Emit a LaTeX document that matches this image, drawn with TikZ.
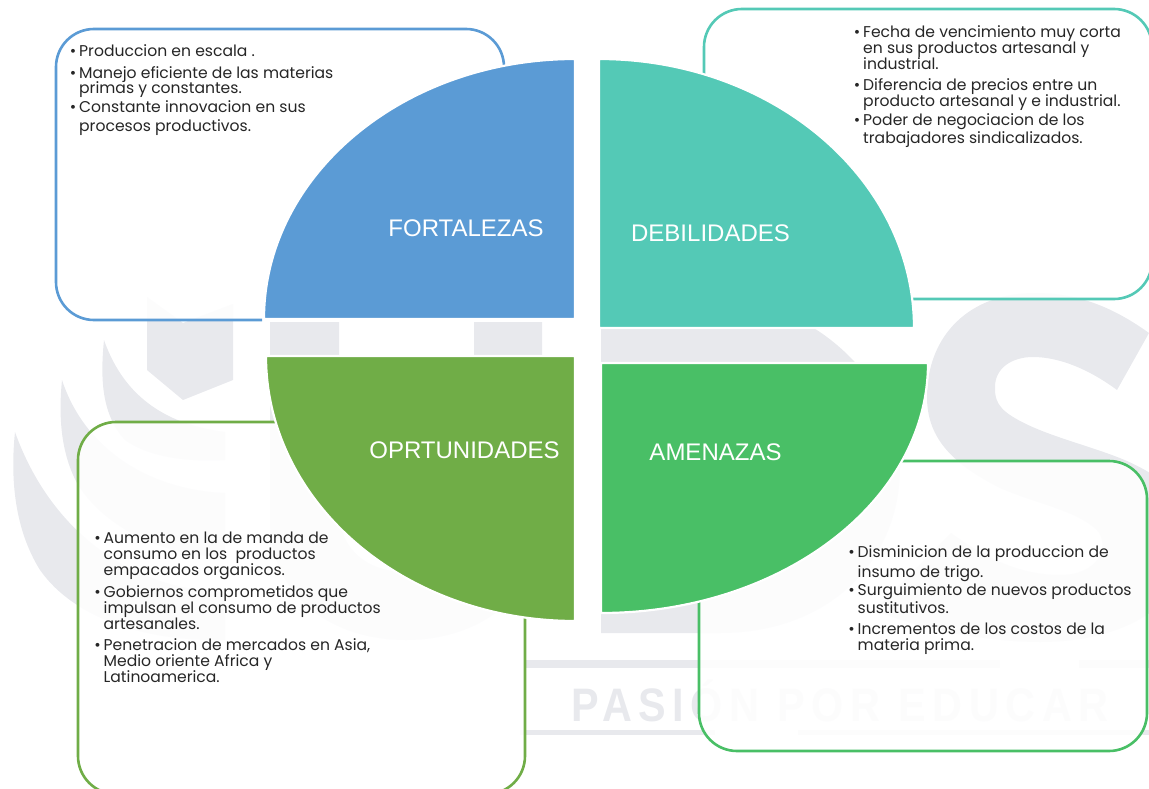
\documentclass[tikz,border=0pt]{standalone}
\usepackage{fontspec}
\setmainfont{Liberation Sans}
\newfontfamily\bodyfont{Poppins}
\newfontfamily\markfont[LetterSpace=14,FakeStretch=0.88]{Liberation Sans}
\definecolor{wm}{HTML}{E8E9ED}
\definecolor{cblue}{HTML}{5B9BD5}
\definecolor{cteal}{HTML}{54C9B6}
\definecolor{cgreen}{HTML}{70AD47}
\definecolor{cmint}{HTML}{49BF66}
\newcommand{\bul}{\llap{\textbullet\hspace{3pt}}}
\tikzset{
  wmark/.style={fill=wm,draw=none},
  panel/.style={fill=white,fill opacity=.88,draw opacity=1,line width=2.6pt,rounded corners=38pt},
  quarter/.style={draw=white,line width=2.2pt},
  title/.style={text=white,font=\fontsize{24}{26}\selectfont,inner sep=0pt,anchor=center},
  body/.style={align=left,inner sep=0pt,anchor=base west,text=black!85,font=\bodyfont\fontsize{15.6}{16}\selectfont}
}
\begin{document}
\begin{tikzpicture}[x=1pt,y=-1pt]
\useasboundingbox (0,0) rectangle (1149,789);
\clip (0,0) rectangle (1149,789);
% watermark
\fill[wmark] (147,297) -- (183,323) -- (233,304) -- (233,380) -- (183,400) -- (147,370) -- cycle;
\fill[wmark] (104,340) .. controls (100,380) and (102,415) .. (125,440) .. controls (150,458) and (190,462) .. (225,460) -- (225,432) .. controls (170,425) and (125,400) .. cycle;
\fill[wmark] (62,380) .. controls (58,420) and (62,455) .. (77,483) .. controls (105,530) and (170,558) .. (225,556) -- (225,493) .. controls (150,490) and (85,450) .. cycle;
\fill[wmark] (15,432) .. controls (10,480) and (15,530) .. (40,570) .. controls (75,620) and (150,642) .. (225,640) -- (225,592) .. controls (130,590) and (50,530) .. cycle;
\fill[wmark] (270,322) -- (270,520) .. controls (270,595) and (330,640) .. (406,640) .. controls (480,640) and (542,595) .. (542,520) -- (542,322) -- (474,322) -- (474,510) .. controls (474,550) and (445,572) .. (406,572) .. controls (368,572) and (339,550) .. (339,510) -- (339,322) -- cycle;
\fill[wmark] (601,300) -- (720,300) .. controls (815,300) and (900,385) .. (900,467) .. controls (900,560) and (830,633) .. (720,633) -- (601,633) -- cycle;
\fill[wmark] (1149,333) .. controls (1110,305) and (1075,293) .. (1035,293) .. controls (970,293) and (927,335) .. (927,397) .. controls (927,440) and (955,465) .. (1000,488) .. controls (1040,505) and (1075,510) .. (1097,530) .. controls (1110,545) and (1100,575) .. (1060,575) .. controls (1020,575) and (985,558) .. (951,533) -- (875,610) .. controls (920,630) and (990,642) .. (1040,642) .. controls (1130,642) and (1190,600) .. (1190,540) .. controls (1190,500) and (1165,478) .. (1127,461) .. controls (1090,445) and (1040,435) .. (1010,415) .. controls (995,405) and (995,395) .. (995,387) .. controls (995,368) and (1012,357) .. (1033,357) .. controls (1060,357) and (1090,370) .. (1117,390) -- cycle;
\fill[wmark] (525,660) rectangle (1000,668);
\fill[wmark] (1079,660) rectangle (1149,668);
\fill[wmark] (520,730) rectangle (715,735);
\fill[wmark] (798,730) rectangle (1149,735);
\node[text=wm,inner sep=0pt,anchor=base west,font=\markfont\bfseries\fontsize{47}{50}\selectfont] (lema) at (571,721) {PASIÓN POR EDUCAR};
% panels
\fill[white,opacity=.88,rounded corners=38pt] (56,29) rectangle (504,320);
\draw[draw=cblue,line width=2.6pt,rounded corners=38pt] (262,320) -| (56,29) -| (504,75);
\draw[panel,draw=cteal] (704,9) rectangle (1152,299);
\draw[panel,draw=cgreen] (78,422) rectangle (525,794);
\draw[panel,draw=cmint] (699,461) rectangle (1147,751);
% quarters
\draw[quarter,fill=cblue] (575,319) -- (264,319) .. controls (264,175.4) and (403.2,59) .. (575,59) -- cycle;
\draw[quarter,fill=cteal] (599,328) -- (599,59) .. controls (773,59) and (914,179.4) .. (914,328) -- cycle;
\draw[quarter,fill=cgreen] (575,356) -- (266,356) .. controls (266,502.4) and (404.3,621) .. (575,621) -- cycle;
\draw[quarter,fill=cmint] (601,363) -- (928,363) .. controls (928,501) and (781.6,613) .. (601,613) -- cycle;
% titles
\node[title] (fort) at (466,228) {FORTALEZAS};
\node[title] (deb) at (710.5,233) {DEBILIDADES};
\node[title] (opo) at (464.5,450) {OPRTUNIDADES};
\node[title] (ame) at (715.5,452) {AMENAZAS};
% texts (a multi-line node's base is its last line)
\node[body] (tfort) at (79,132) {\bul Produccion en escala .\\[6pt]
\bul Manejo eficiente de las materias\\
primas y constantes.\\[2pt]
\bul Constante innovacion en sus\\[4pt]
procesos productivos.};
\node[body] (tdeb) at (863,144) {\bul Fecha de vencimiento muy corta\\
en sus productos artesanal y\\
industrial.\\[5pt]
\bul Diferencia de precios entre un\\
producto artesanal y e industrial.\\[3pt]
\bul Poder de negociacion de los\\[1pt]
trabajadores sindicalizados.};
\node[body] (topo) at (103.5,682) {\bul Aumento en la de manda de\\
consumo en los\ \ productos\\
empacados organicos.\\[4pt]
\bul Gobiernos comprometidos que\\
impulsan el consumo de productos\\
artesanales.\\[5pt]
\bul Penetracion de mercados en Asia,\\
Medio oriente Africa y\\
Latinoamerica.};
\node[body] (tame) at (857.5,650) {\bul Disminicion de la produccion de\\[4pt]
insumo de trigo.\\[1pt]
\bul Surguimiento de nuevos productos\\
sustitutivos.\\[5pt]
\bul Incrementos de los costos de la\\
materia prima.};
\end{tikzpicture}
\end{document}
